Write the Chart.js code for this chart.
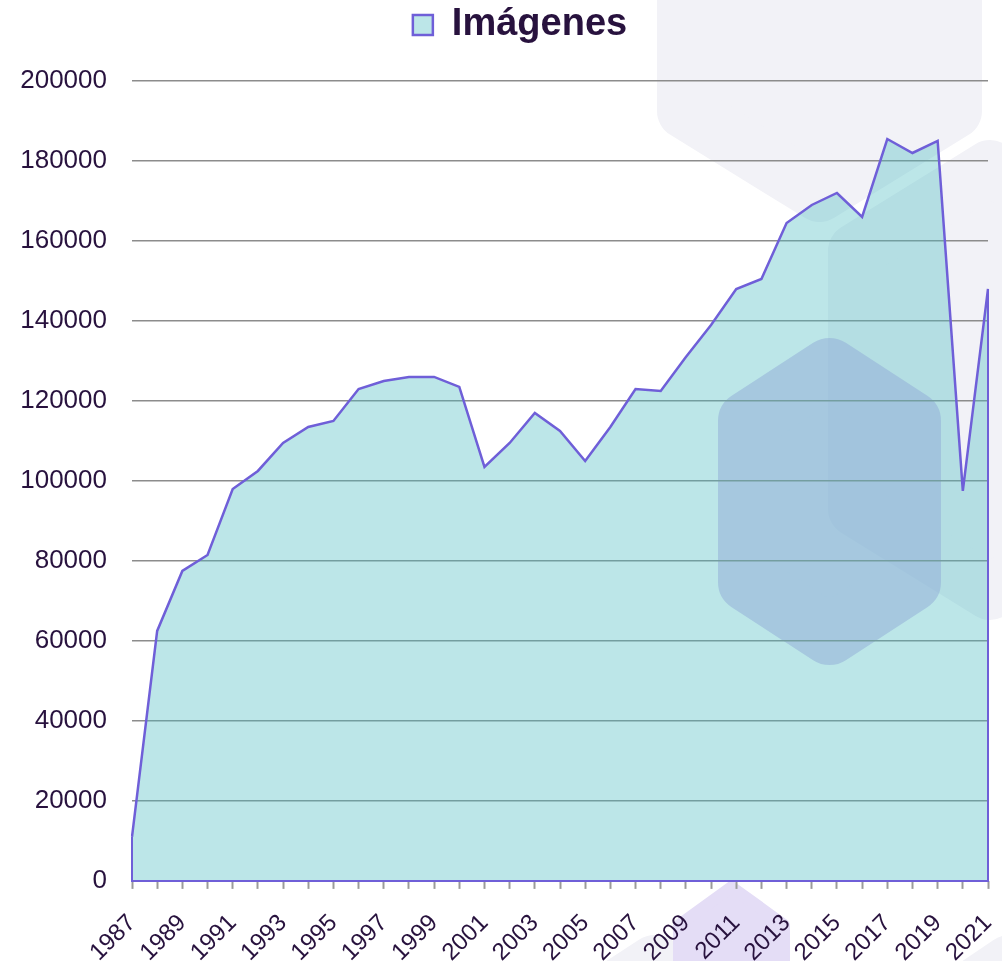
<!DOCTYPE html>
<html lang="es">
<head>
<meta charset="utf-8">
<title>Imágenes</title>
<script src="https://cdn.jsdelivr.net/npm/chart.js@4.4.1/dist/chart.umd.min.js"></script>
<style>
  html, body { margin: 0; padding: 0; background: #fff; overflow: hidden; }
  #wrap { position: relative; width: 1002px; height: 961px; overflow: hidden; }
  #fondo { position: absolute; left: 0; top: 0; }
  #caja { position: absolute; left: 0; top: 0; width: 1020px; height: 990px; }
</style>
</head>
<body>
<div id="wrap">
  <svg id="fondo" width="1002" height="961" xmlns="http://www.w3.org/2000/svg"></svg>
  <div id="caja"><canvas id="grafico"></canvas></div>
</div>
<script>
// Datos
const anios = ['1987', '1988', '1989', '1990', '1991', '1992', '1993', '1994', '1995', '1996',
               '1997', '1998', '1999', '2000', '2001', '2002', '2003', '2004', '2005', '2006',
               '2007', '2008', '2009', '2010', '2011', '2012', '2013', '2014', '2015', '2016',
               '2017', '2018', '2019', '2020', '2021'];
const imagenes = [11000, 62500, 77500, 81500, 98000, 102500, 109500, 113500, 115000, 123000,
                  125000, 126000, 126000, 123500, 103500, 109500, 117000, 112500, 105000, 113500,
                  123000, 122500, 131000, 139000, 148000, 150500, 164500, 169000, 172000, 166000,
                  185500, 182000, 185000, 97500, 148000];
const nombreSerie = 'Imágenes';
const ejeY = { min: 0, max: 200000, paso: 20000 };

const colorLinea = '#6f5fd8';
const colorRelleno = 'rgba(80, 190, 195, 0.38)';
const colorTexto = '#28123e';
const fuente = "'Liberation Sans', Arial, sans-serif";

// --- Formas decorativas del fondo (hexagonos redondeados) ---
const formas = [
  { color: '#f2f2f7', r: 28, o: 1, puntos: [[685, -300], [954, -300], [954, 111], [819.5, 194], [685, 111]] },
  { color: '#f2f2f7', r: 28, o: 1, puntos: [[990, 168], [1124, 251], [1124, 509], [990, 592], [856, 509], [856, 251]] },
  { color: '#f2f2f7', r: 30, o: 1, puntos: [[655, 965], [800, 1060], [800, 1300], [510, 1300], [510, 1060]] },
  { color: '#f2f2f7', r: 30, o: 1, puntos: [[1010, 965], [1150, 1060], [1150, 1300], [870, 1300], [870, 1060]] },
  { color: '#bea9e6', r: 30, o: 0.55, puntos: [[829.5, 368], [911, 421], [911, 582], [829.5, 635], [748, 582], [748, 421]] },
  { color: '#e4ddf6', r: 6, o: 1, puntos: [[731.5, 887], [784, 925], [784, 1100], [679, 1100], [679, 925]] }
];
function dibujarFondo() {
  const svg = document.getElementById('fondo');
  svg.innerHTML = formas.map(f => {
    const d = 'M' + f.puntos.map(p => p.join(' ')).join(' L') + ' Z';
    return `<path d="${d}" fill="${f.color}" stroke="${f.color}" stroke-width="${f.r * 2}" stroke-linejoin="round" opacity="${f.o}"/>`;
  }).join('');
}

// Borde del area: lados verticales y base
const bordeArea = {
  id: 'bordeArea',
  afterDatasetsDraw(chart) {
    const pts = chart.getDatasetMeta(0).data;
    const y0 = chart.scales.y.getPixelForValue(0);
    const ctx = chart.ctx;
    const ult = pts[pts.length - 1];
    ctx.save();
    ctx.strokeStyle = colorLinea;
    ctx.lineWidth = 2;
    ctx.beginPath();
    ctx.moveTo(pts[0].x, pts[0].y);
    ctx.lineTo(pts[0].x, y0);
    ctx.lineTo(ult.x, y0);
    ctx.lineTo(ult.x, ult.y);
    ctx.stroke();
    ctx.restore();
  }
};

// Espacio extra bajo la leyenda
const margenLeyenda = {
  id: 'margenLeyenda',
  beforeInit(chart) {
    const fit = chart.legend.fit;
    chart.legend.fit = function () { fit.bind(chart.legend)(); this.height += 27; };
  }
};

function main() {
  dibujarFondo();
  new Chart(document.getElementById('grafico').getContext('2d'), {
    type: 'line',
    data: {
      labels: anios,
      datasets: [{
        label: nombreSerie,
        data: imagenes,
        borderColor: colorLinea,
        backgroundColor: colorRelleno,
        borderWidth: 2.5,
        fill: 'origin',
        pointRadius: 0,
        tension: 0
      }]
    },
    options: {
      responsive: true,
      maintainAspectRatio: false,
      animation: false,
      layout: { padding: { left: 20, right: 0, top: 0, bottom: 3 } },
      plugins: {
        tooltip: { enabled: false },
        legend: {
          position: 'top',
          labels: { boxWidth: 20, boxHeight: 20, padding: 6, color: colorTexto, font: { family: fuente, size: 38, weight: 'bold' } }
        }
      },
      scales: {
        x: {
          border: { display: false },
          grid: { drawOnChartArea: false, drawTicks: true, tickLength: 8, tickColor: '#9a9a9a', tickWidth: 2 },
          ticks: {
            autoSkip: false, maxRotation: 45, minRotation: 45, padding: 20,
            color: colorTexto, font: { family: fuente, size: 24 },
            callback: (v, i) => (i % 2 === 0 ? anios[i] : '')
          },
          afterFit: escala => { escala.paddingLeft = 0; escala.paddingRight = 32; }
        },
        y: {
          min: ejeY.min, max: ejeY.max,
          border: { display: false },
          grid: { color: '#8c8c8c', lineWidth: 1.6, drawTicks: false },
          ticks: { stepSize: ejeY.paso, padding: 25, color: colorTexto, font: { family: fuente, size: 26 },
                   callback: v => String(v) },
          afterFit: escala => { escala.width = 112; }
        }
      }
    },
    plugins: [bordeArea, margenLeyenda]
  });
}

document.addEventListener('DOMContentLoaded', main);
</script>
</body>
</html>
